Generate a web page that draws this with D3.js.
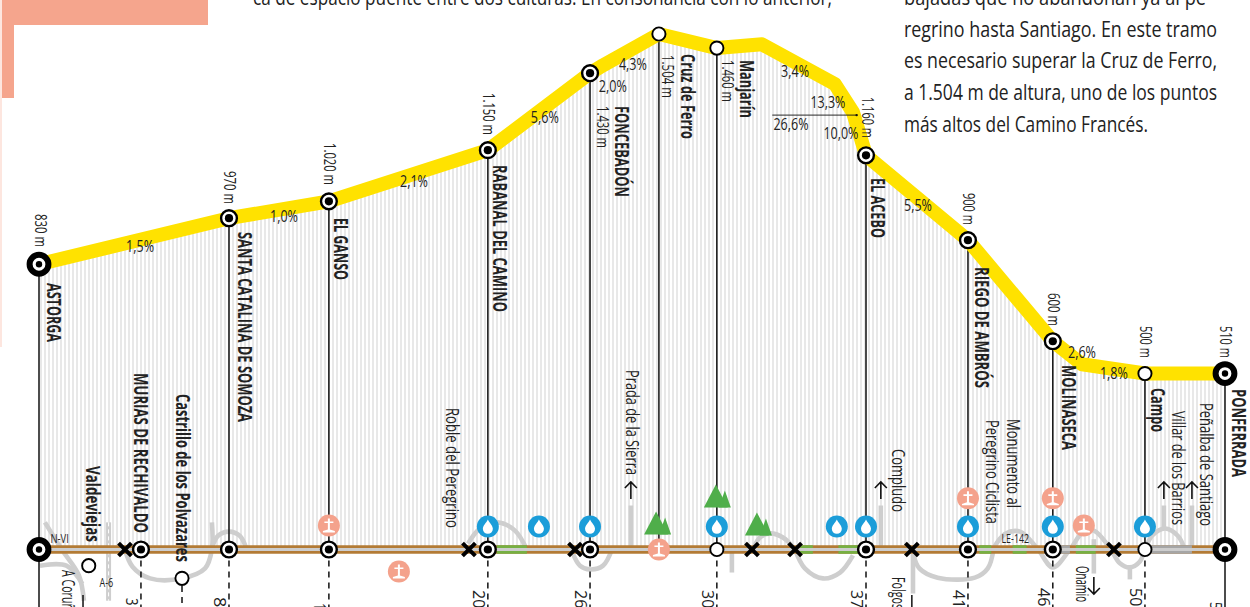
<!DOCTYPE html>
<html>
<head>
<meta charset="utf-8">
<style>
  html, body { margin: 0; padding: 0; background: #fff; overflow: hidden; }
  text { font-family: "Liberation Sans Narrow", "Open Sans", sans-serif; fill: #222; }
</style>
<script src="https://cdn.jsdelivr.net/npm/d3@7"></script>
</head>
<body>
<svg class="profile" width="1250" height="607"></svg>
<script>

// Profile of the stage, km from Astorga and metres as drawn in the picture
var profileKm = [0, 8.33, 12.71, 19.68, 24.16, 24.73, 27.18, 29.72, 31.7, 34.9, 35.69, 36.26, 40.73, 44.45, 45.73, 48.49, 52];
var profileElev = [830, 964, 1013, 1162, 1386, 1409, 1500, 1459, 1470, 1354, 1272, 1147, 900, 606, 539, 512, 512];

var stopNames = ["ASTORGA", "Valdeviejas", "MURIAS DE RECHIVALDO", "Castrillo de los Polvazares", "SANTA CATALINA DE SOMOZA", "EL GANSO", "RABANAL DEL CAMINO", "FONCEBADÓN", "Cruz de Ferro", "Manjarín", "EL ACEBO", "RIEGO DE AMBRÓS", "MOLINASECA", "Campo", "PONFERRADA"];
var stopKm = [0, 2.18, 4.47, 6.27, 8.33, 12.71, 19.68, 24.16, 27.18, 29.72, 36.26, 40.73, 44.45, 48.49, 52];
var stopElev = [830, null, null, null, 964, 1013, 1162, 1386, 1500, 1459, 1147, 900, 606, 512, 512];
var stopElevLabels = ["830 m", "", "", "", "970 m", "1.020 m", "1.150 m", "1.430 m", "1.504 m", "1.460 m", "1.160 m", "900 m", "600 m", "500 m", "510 m"];
var stopKinds = ["big", "small", "mid", "small", "mid", "mid", "mid", "mid", "small", "small", "mid", "mid", "mid", "small", "big"];
var stopKmLabels = ["", "", "3", "", "8,", "1", "20,", "26,", "", "30,", "37,", "41,", "46,", "50,", "5"];

var gradeLabels = ["1,5%", "1,0%", "2,1%", "5,6%", "2,0%", "4,3%", "3,4%", "13,3%", "26,6%", "10,0%", "5,5%", "2,6%", "1,8%"];

var placeLabels = ["Roble del Peregrino", "Prada de la Sierra", "Compludo", "Monumento al", "Peregrino Ciclista", "Villar de los Barrios", "Peñalba de Santiago", "Onamio", "Folgos", "A Coruñ"];
var roadLabels = ["N-VI", "A-6", "LE-142"];

var waterKm = [19.68, 21.92, 24.16, 29.72, 34.98, 36.26, 40.73, 44.45, 48.49];
var crossingKm = [3.77, 18.85, 23.5, 31.26, 33.15, 38.27, 47.13];
var monumentKm = [12.71, 15.78, 27.18, 40.73, 44.45, 45.81];
var monumentElev = [70, -64, 0, 149, 149, 70];
var treeKm = [27.1, 29.72, 31.52];
var treeElev = [44, 122, 41];
var greenFrom = [20.07, 33.36, 35.05, 41.23, 42.69, 45.46];
var greenTo = [21.39, 33.93, 35.93, 41.75, 43.3, 46.33];
var greyFrom = [44.75, 48.72];
var greyTo = [45.2, 50.55];
var sideTickKm = [1.93, 38.27];

// Grey side roads, each one a list of [km, metres]
var sideRoads = [
  [[0.26, 79], [1.0, 0], [1.75, -75], [1.97, -149]],
  [[0.04, -47], [1.2, -47], [1.9, -100]],
  [[3.77, 0], [4.1, -50], [4.87, -84], [6.27, -84], [7.28, -55], [7.58, 0], [7.58, 79]],
  [[7.58, 5], [7.85, 40], [8.33, 52], [8.8, 40], [9.08, 5]],
  [[18.81, 17], [19.33, 61], [20.12, 79], [20.87, 55], [21.39, 0]],
  [[23.41, -12], [23.72, -47], [24.16, -58], [24.73, -47], [25.12, 0]],
  [[25.95, 128], [25.95, 0]],
  [[30.38, 0], [30.38, -67]],
  [[31.3, 0], [31.61, 35], [32.05, 47], [32.62, 35], [33.15, 0]],
  [[33.15, 0], [33.58, -55], [34.37, -84], [35.12, -67], [35.69, -17]],
  [[36.91, 128], [36.91, 0]],
  [[38.32, 0], [38.32, -128]],
  [[38.32, -10], [38.6, -55], [39.4, -82], [41.03, -82], [41.6, -55], [41.85, 0]],
  [[41.82, 0], [42.35, 45], [43.01, 52], [43.75, 5], [44.45, -52], [45.2, 0], [45.77, 50], [46.25, 55], [46.95, 5], [47.39, -40], [47.83, -52], [48.27, -35], [48.49, 0], [48.8, 40], [49.37, 61], [49.93, 40], [50.24, 0]],
  [[46.25, 30], [46.25, -70]],
  [[47.83, -52], [47.83, -87]],
  [[49.32, 128], [49.32, 61]],
  [[50.55, 128], [50.55, 0]]
];
var motorway = [[3.05, 79], [3.05, -149]];

var arrowUpKm = [25.95, 36.91, 49.32, 50.55];
var arrowDownKm = [46.25];

var introLines = ["ca de espacio puente entre dos culturas. En consonancia con lo anterior,"];
var sideLines = ["bajadas que no abandonan ya al pe-", "regrino hasta Santiago. En este tramo", "es necesario superar la Cruz de Ferro,", "a 1.504 m de altura, uno de los puntos", "más altos del Camino Francés."];

// Placement of the texts
var nameDx = [8, -3, -7, -6, 9, 5, 5, 25, 22, 23, 5, 7, 9, 6, 7];
var nameTop = [283, 466, 373, 394, 232, 218, 165, 106, 54, 60, 178, 267, 365, 388, 389];
var nameLength = [59, 76, 160, 168, 190, 62, 147, 91, 85, 58, 60, 121, 85, 44, 88];
var elevDx = [-4, 0, 0, 0, -5, -5, -5, 7, 3, 5, -4, -5, -5, -5, -5];
var elevTop = [214, 0, 0, 0, 171, 143, 93, 106, 55, 60, 97, 193, 293, 326, 326];
var elevLength = [33, 0, 0, 0, 33, 42, 42, 42, 43, 42, 41, 32, 33, 32, 32];
var kmTop = [0, 0, 598, 0, 597, 603, 590, 590, 0, 590, 590, 590, 588, 588, 602];
var gradeKm = [4.43, 10.74, 16.44, 22.18, 25.16, 26.04, 33.15, 34.59, 32.97, 35.16, 38.54, 45.73, 47.13];
var gradeElev = [865, 952, 1054, 1240, 1331, 1395, 1374, 1284, 1220, 1194, 984, 556, 495];
var placeX = [446, 626, 892, 1007, 986, 1172, 1200, 1076, 892, 62];
var placeTop = [408, 370, 449, 419, 420, 411, 403, 566, 577, 570];
var placeLength = [120, 105, 63, 89, 104, 114, 123, 36, 32, 40];

var svg = d3.select("svg.profile");

var x = d3.scaleLinear().domain([0, 52]).range([39, 1225]);
var y = d3.scaleLinear().domain([0, 1500]).range([549.5, 34]);

var defs = svg.append("defs");
defs
  .append("pattern")
  .attr("id", "hatch")
  .attr("patternUnits", "userSpaceOnUse")
  .attr("width", 4)
  .attr("height", 10)
  .append("rect")
  .attr("width", 2)
  .attr("height", 10)
  .style("fill", "#e8e8e8");

// Salmon corner of the page
svg.append("rect").attr("x", 0).attr("y", 0).attr("width", 2).attr("height", 347).style("fill", "#fde6df");
svg.append("rect").attr("x", 2).attr("y", 0).attr("width", 206).attr("height", 25).style("fill", "#f5a58d");
svg.append("rect").attr("x", 2).attr("y", 0).attr("width", 12).attr("height", 98).style("fill", "#f5a58d");

function bodyText(lines, left, widths, firstBaseline) {
  svg
    .append("g")
    .selectAll("text")
    .data(lines)
    .join("text")
    .text(d => d)
    .attr("x", left)
    .attr("y", (d, i) => firstBaseline + i * 31.7)
    .attr("textLength", (d, i) => widths[i])
    .attr("lengthAdjust", "spacingAndGlyphs")
    .style("font-size", "22px");
}
bodyText(introLines, 253, [579], 5);
bodyText(sideLines, 904, [308, 313, 313, 313, 244], 5);

// Hatched area under the profile
var area = d3.area().x(d => x(d[0])).y0(y(0)).y1(d => y(d[1]));
var profile = profileKm.map((d, i) => [d, profileElev[i]]);

svg.append("path").attr("d", area(profile)).style("fill", "url(#hatch)");

// Side roads
var roadLine = d3.line().x(d => x(d[0])).y(d => y(d[1])).curve(d3.curveCatmullRom);

svg
  .append("g")
  .selectAll("path")
  .data(sideRoads)
  .join("path")
  .attr("d", roadLine)
  .style("fill", "none")
  .style("stroke", "#cecece")
  .style("stroke-width", 4.6);

svg.append("path").attr("d", roadLine(motorway)).style("fill", "none").style("stroke", "#cecece").style("stroke-width", 5);
svg.append("path").attr("d", roadLine(motorway)).style("fill", "none").style("stroke", "#fff").style("stroke-width", 1).style("stroke-dasharray", "4,3");

// Vertical lines from the profile to the road and on to the kilometre marks
var onProfile = stopKm.map((d, i) => i).filter(i => stopElev[i] !== null);

svg
  .append("g")
  .selectAll("line")
  .data(onProfile)
  .join("line")
  .attr("x1", i => x(stopKm[i]))
  .attr("x2", i => x(stopKm[i]))
  .attr("y1", i => y(stopElev[i]))
  .attr("y2", y(0))
  .style("stroke", "#111")
  .style("stroke-width", 1.5);

svg
  .append("g")
  .selectAll("line")
  .data(stopKm.map((d, i) => i).filter(i => stopKinds[i] === "big"))
  .join("line")
  .attr("x1", i => x(stopKm[i]))
  .attr("x2", i => x(stopKm[i]))
  .attr("y1", y(0))
  .attr("y2", 607)
  .style("stroke", "#111")
  .style("stroke-width", 1.5);

var dashed = stopKm.map((d, i) => i).filter(i => stopKinds[i] !== "big" && i !== 1 && i !== 8);

svg
  .append("g")
  .selectAll("line")
  .data(dashed)
  .join("line")
  .attr("x1", i => x(stopKm[i]))
  .attr("x2", i => x(stopKm[i]))
  .attr("y1", i => i === 3 ? 586 : y(0))
  .attr("y2", 607)
  .style("stroke", "#111")
  .style("stroke-width", 1.5)
  .style("stroke-dasharray", "6,5");

svg
  .append("g")
  .selectAll("line")
  .data(sideTickKm)
  .join("line")
  .attr("x1", d => x(d))
  .attr("x2", d => x(d))
  .attr("y1", 595)
  .attr("y2", 607)
  .style("stroke", "#111")
  .style("stroke-width", 1.5);

// The yellow profile line
svg
  .append("path")
  .attr("d", d3.line().x(d => x(d[0])).y(d => y(d[1]))(profile))
  .style("fill", "none")
  .style("stroke", "#ffe200")
  .style("stroke-width", 14)
  .style("stroke-linejoin", "round");

// The walking route along the bottom: brown by default, green and grey stretches on top
function routeStretch(from, to, color) {
  svg
    .append("line")
    .attr("x1", x(from))
    .attr("x2", x(to))
    .attr("y1", y(0))
    .attr("y2", y(0))
    .style("stroke", color)
    .style("stroke-width", 8.5);
}
routeStretch(0, 52, "#b37b35");
greenFrom.forEach((d, i) => routeStretch(d, greenTo[i], "#76b043"));
greyFrom.forEach((d, i) => routeStretch(d, greyTo[i], "#a6a6a6"));

svg
  .append("line")
  .attr("x1", x(0))
  .attr("x2", x(52))
  .attr("y1", y(0))
  .attr("y2", y(0))
  .style("stroke", "#cdcdcd")
  .style("stroke-width", 2.8);

// Crossings
svg
  .append("g")
  .selectAll("path")
  .data(crossingKm)
  .join("path")
  .attr("d", d3.symbol(d3.symbolTimes, 110))
  .attr("transform", d => `translate(${x(d)},${y(0)})`)
  .style("fill", "none")
  .style("stroke", "#000")
  .style("stroke-width", 4);

// Stop markers
function drawMarker(g, kind) {
  if (kind === "big") {
    g.append("circle").attr("r", 9.4).style("fill", "#fff").style("stroke", "#000").style("stroke-width", 6);
    g.append("circle").attr("r", 3.2).style("fill", "#000");
  } else if (kind === "mid") {
    g.append("circle").attr("r", 7.9).style("fill", "#fff").style("stroke", "#000").style("stroke-width", 2.4);
    g.append("circle").attr("r", 4.1).style("fill", "#000");
  } else {
    g.append("circle").attr("r", 6.6).style("fill", "#fff").style("stroke", "#000").style("stroke-width", 1.9);
  }
}

stopKm.forEach((km, i) => {
  if (stopElev[i] !== null) {
    drawMarker(svg.append("g").attr("transform", `translate(${x(km)},${y(stopElev[i])})`), stopKinds[i]);
  }
  // Cruz de Ferro has the monument on the road, the two small villages sit below it
  if (i === 8) return;
  var below = i === 1 ? -47 : i === 3 ? -84 : 0;
  drawMarker(svg.append("g").attr("transform", `translate(${x(km)},${y(below)})`), stopKinds[i]);
});

// Service icons
var iconRadius = 11;

svg
  .append("g")
  .selectAll("g")
  .data(waterKm)
  .join("g")
  .attr("transform", d => `translate(${x(d)},${y(67)})`)
  .each(function () {
    var g = d3.select(this);
    g.append("circle").attr("r", iconRadius).style("fill", "#1b9dd9");
    g.append("path").attr("d", "M0,-7C1.5,-3.5 5,-1 5,2.4A5,5 0 0 1 -5,2.4C-5,-1 -1.5,-3.5 0,-7Z").style("fill", "#fff");
  });

svg
  .append("g")
  .selectAll("g")
  .data(monumentKm)
  .join("g")
  .attr("transform", (d, i) => `translate(${x(d)},${y(monumentElev[i])})`)
  .each(function () {
    var g = d3.select(this);
    g.append("circle").attr("r", iconRadius).style("fill", "#f4a28c");
    g.append("path").attr("d", "M-1,-7H1V-4H4.5V-2.4H1V4L6,5.6V7H-6V5.6L-1,4V-2.4H-4.5V-4H-1Z").style("fill", "#fff");
  });

svg
  .append("g")
  .selectAll("g")
  .data(treeKm)
  .join("g")
  .attr("transform", (d, i) => `translate(${x(d)},${y(treeElev[i])})`)
  .each(function () {
    var g = d3.select(this);
    g.append("path").attr("d", "M-13,0L-1,-23L11,0Z").style("fill", "#4fae4a");
    g.append("path").attr("d", "M2,0L8,-17L14,0Z").style("fill", "#4fae4a");
  });

// Arrows at the end of the side roads
function drawArrow(km, tip, dir) {
  var a = svg.append("g").attr("transform", `translate(${x(km)},${tip})`).style("fill", "none").style("stroke", "#111").style("stroke-width", 1.6);
  a.append("path").attr("d", `M0,0V${dir * 17}M-6,${dir * 6}L0,0L6,${dir * 6}`);
}
arrowUpKm.forEach(d => drawArrow(d, 482, 1));
arrowDownKm.forEach(d => drawArrow(d, 594, -1));

// Little leader line at the steep stretch
var leader = svg.append("g");
leader.append("line").attr("x1", x(32.15)).attr("x2", x(35.85)).attr("y1", y(1264)).attr("y2", y(1264)).style("stroke", "#111").style("stroke-width", 0.9);
leader.append("circle").attr("cx", x(35.85)).attr("cy", y(1264)).attr("r", 1.2).style("fill", "#111");

// Rotated texts read from top to bottom
function verticalText(textValue, px, top, length, size, weight) {
  svg
    .append("text")
    .text(textValue)
    .attr("transform", `translate(${px},${top}) rotate(90)`)
    .attr("textLength", length)
    .attr("lengthAdjust", "spacingAndGlyphs")
    .style("font-size", size + "px")
    .style("font-weight", weight);
}

stopNames.forEach((d, i) => verticalText(d, x(stopKm[i]) + nameDx[i], nameTop[i], nameLength[i], 19, "bold"));

stopElevLabels.forEach((d, i) => {
  if (d) verticalText(d, x(stopKm[i]) + elevDx[i], elevTop[i], elevLength[i], 16, "normal");
});

placeLabels.forEach((d, i) => verticalText(d, placeX[i], placeTop[i], placeLength[i], 18, "normal"));

stopKmLabels.forEach((d, i) => {
  if (d) verticalText(d, x(stopKm[i]) - 15, kmTop[i], d.length * 7.5, 17, "normal");
});

svg
  .append("g")
  .selectAll("text")
  .data(gradeLabels)
  .join("text")
  .text(d => d)
  .attr("x", (d, i) => x(gradeKm[i]))
  .attr("y", (d, i) => y(gradeElev[i]))
  .attr("textLength", d => d.length * 7)
  .attr("lengthAdjust", "spacingAndGlyphs")
  .style("text-anchor", "middle")
  .style("font-size", "17px");

svg
  .append("g")
  .selectAll("text")
  .data(roadLabels)
  .join("text")
  .text(d => d)
  .attr("x", (d, i) => x([0.5, 2.65, 42.2][i]))
  .attr("y", (d, i) => y([17, -112, 17][i]) - 1)
  .attr("textLength", d => d.length * 4.6)
  .attr("lengthAdjust", "spacingAndGlyphs")
  .style("font-size", "12px");

</script>
</body>
</html>
